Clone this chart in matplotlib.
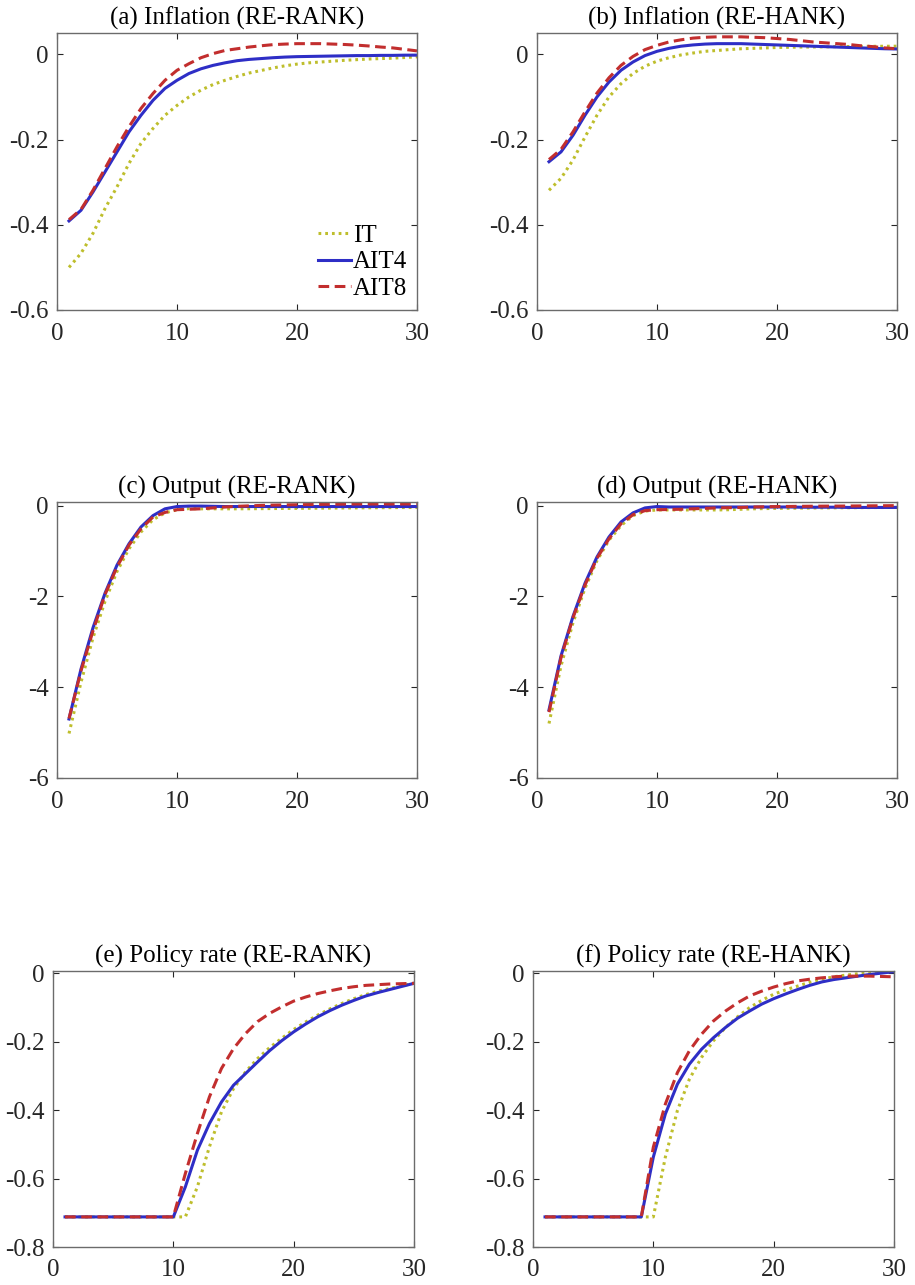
import matplotlib
matplotlib.use("Agg")
import matplotlib.pyplot as plt
import numpy as np

plt.rcParams['font.family'] = ['Liberation Serif', 'DejaVu Serif']

t = np.arange(1, 31)

# (a) Inflation RE-RANK
pi_rank_it = [-0.500, -0.467, -0.420, -0.362, -0.311, -0.256, -0.209, -0.174, -0.143, -0.120,
              -0.100, -0.084, -0.071, -0.061, -0.052, -0.044, -0.038, -0.032, -0.027, -0.023,
              -0.020, -0.018, -0.016, -0.014, -0.0125, -0.011, -0.010, -0.009, -0.0075, -0.006]
pi_rank_ait4 = [-0.391, -0.366, -0.323, -0.276, -0.229, -0.182, -0.143, -0.108, -0.080, -0.061,
                -0.045, -0.034, -0.026, -0.020, -0.015, -0.012, -0.010, -0.008, -0.0065, -0.0055,
                -0.005, -0.0045, -0.004, -0.0035, -0.003, -0.003, -0.0025, -0.0025, -0.002, -0.002]
pi_rank_ait8 = [-0.388, -0.364, -0.319, -0.268, -0.217, -0.170, -0.127, -0.092, -0.061, -0.0375,
                -0.022, -0.008, 0.0016, 0.009, 0.013, 0.017, 0.020, 0.0227, 0.024, 0.025,
                0.025, 0.025, 0.024, 0.023, 0.0215, 0.0195, 0.017, 0.015, 0.0115, 0.008]

# (b) Inflation RE-HANK
pi_hank_it = [-0.319, -0.291, -0.248, -0.194, -0.143, -0.100, -0.069, -0.045, -0.028, -0.016,
              -0.008, -0.0015, 0.003, 0.007, 0.009, 0.011, 0.013, 0.014, 0.015, 0.016,
              0.0165, 0.017, 0.0172, 0.0175, 0.018, 0.0183, 0.0185, 0.0187, 0.0189, 0.019]
pi_hank_ait4 = [-0.252, -0.229, -0.190, -0.143, -0.100, -0.065, -0.0375, -0.018, -0.003, 0.007,
                0.014, 0.019, 0.022, 0.024, 0.025, 0.025, 0.025, 0.024, 0.023, 0.022,
                0.021, 0.020, 0.019, 0.018, 0.017, 0.016, 0.015, 0.014, 0.013, 0.0125]
pi_hank_ait8 = [-0.247, -0.223, -0.182, -0.135, -0.091, -0.055, -0.026, -0.005, 0.011, 0.021,
                0.029, 0.034, 0.038, 0.040, 0.041, 0.041, 0.041, 0.040, 0.039, 0.037,
                0.035, 0.032, 0.029, 0.027, 0.025, 0.023, 0.020, 0.018, 0.015, 0.013]

# (c) Output RE-RANK
y_rank_it = [-5.02, -3.89, -2.91, -2.11, -1.45, -0.95, -0.58, -0.31, -0.16, -0.09,
             -0.065, -0.07, -0.07, -0.07, -0.07, -0.068, -0.066, -0.064, -0.062, -0.06,
             -0.058, -0.056, -0.054, -0.052, -0.05, -0.048, -0.046, -0.044, -0.042, -0.04]
y_rank_ait4 = [-4.70, -3.60, -2.69, -1.93, -1.31, -0.84, -0.47, -0.22, -0.07, -0.02,
               -0.01, -0.01, -0.015, -0.02, -0.02, -0.02, -0.02, -0.02, -0.02, -0.02,
               -0.02, -0.02, -0.02, -0.02, -0.02, -0.02, -0.02, -0.02, -0.02, -0.02]
y_rank_ait8 = [-4.69, -3.64, -2.76, -1.96, -1.35, -0.87, -0.51, -0.25, -0.15, -0.09,
               -0.08, -0.07, -0.05, -0.03, -0.015, -0.005, 0.005, 0.012, 0.017, 0.02,
               0.024, 0.028, 0.031, 0.034, 0.036, 0.036, 0.036, 0.036, 0.036, 0.036]

# (d) Output RE-HANK
y_hank_it = [-4.80, -3.53, -2.58, -1.82, -1.21, -0.76, -0.44, -0.22, -0.12, -0.095,
             -0.095, -0.095, -0.095, -0.095, -0.095, -0.09, -0.08, -0.07, -0.065, -0.06,
             -0.058, -0.055, -0.052, -0.05, -0.048, -0.046, -0.044, -0.042, -0.041, -0.04]
y_hank_ait4 = [-4.50, -3.31, -2.44, -1.71, -1.13, -0.69, -0.36, -0.16, -0.05, -0.02,
               -0.03, -0.03, -0.03, -0.03, -0.03, -0.03, -0.03, -0.03, -0.03, -0.03,
               -0.03, -0.035, -0.035, -0.035, -0.035, -0.04, -0.04, -0.04, -0.04, -0.04]
y_hank_ait8 = [-4.55, -3.35, -2.47, -1.75, -1.16, -0.73, -0.40, -0.20, -0.11, -0.09,
               -0.085, -0.08, -0.07, -0.06, -0.05, -0.045, -0.04, -0.03, -0.025, -0.02,
               -0.018, -0.015, -0.013, -0.011, -0.01, -0.008, -0.006, -0.004, -0.002, 0.0]

# (e) Policy rate RE-RANK
r_rank_it = [-0.712] * 11 + [-0.624, -0.507, -0.405, -0.337, -0.288, -0.249, -0.217, -0.190, -0.164,
                             -0.142, -0.122, -0.104, -0.088, -0.074, -0.062, -0.052, -0.044, -0.036, -0.029]
r_rank_ait4 = [-0.712] * 10 + [-0.624, -0.517, -0.439, -0.376, -0.327, -0.293, -0.259, -0.226, -0.197, -0.171,
                               -0.148, -0.127, -0.109, -0.093, -0.079, -0.066, -0.056, -0.047, -0.038, -0.029]
r_rank_ait8 = [-0.712] * 10 + [-0.585, -0.468, -0.361, -0.278, -0.220, -0.176, -0.141, -0.117, -0.098, -0.081,
                               -0.069, -0.059, -0.051, -0.044, -0.039, -0.035, -0.033, -0.031, -0.030, -0.029]

# (f) Policy rate RE-HANK
r_hank_it = [-0.712] * 10 + [-0.537, -0.401, -0.309, -0.246, -0.197, -0.158, -0.127, -0.100, -0.079, -0.061,
                             -0.048, -0.037, -0.026, -0.017, -0.010, -0.005, -0.001, 0.002, 0.005, 0.007]
r_hank_ait4 = [-0.712] * 9 + [-0.537, -0.411, -0.324, -0.265, -0.222, -0.188, -0.158, -0.131, -0.110, -0.090,
                              -0.074, -0.060, -0.047, -0.035, -0.025, -0.018, -0.013, -0.008, -0.003, 0.001, 0.005]
r_hank_ait8 = [-0.712] * 9 + [-0.508, -0.382, -0.290, -0.226, -0.178, -0.139, -0.110, -0.086, -0.066, -0.052,
                              -0.040, -0.030, -0.022, -0.017, -0.013, -0.010, -0.008, -0.008, -0.008, -0.009, -0.010]

titles = ["(a) Inflation (RE-RANK)", "(b) Inflation (RE-HANK)",
          "(c) Output (RE-RANK)", "(d) Output (RE-HANK)",
          "(e) Policy rate (RE-RANK)", "(f) Policy rate (RE-HANK)"]
series = [(pi_rank_it, pi_rank_ait4, pi_rank_ait8), (pi_hank_it, pi_hank_ait4, pi_hank_ait8),
          (y_rank_it, y_rank_ait4, y_rank_ait8), (y_hank_it, y_hank_ait4, y_hank_ait8),
          (r_rank_it, r_rank_ait4, r_rank_ait8), (r_hank_it, r_hank_ait4, r_hank_ait8)]
ylims = [(-0.6, 0.05), (-0.6, 0.05), (-6, 0.08), (-6, 0.08), (-0.8, 0.007), (-0.8, 0.007)]
yticks = [[-0.6, -0.4, -0.2, 0], [-0.6, -0.4, -0.2, 0], [-6, -4, -2, 0], [-6, -4, -2, 0],
          [-0.8, -0.6, -0.4, -0.2, 0], [-0.8, -0.6, -0.4, -0.2, 0]]
ylabels = [["-0.6", "-0.4", "-0.2", "0"], ["-0.6", "-0.4", "-0.2", "0"],
           ["-6", "-4", "-2", "0"], ["-6", "-4", "-2", "0"],
           ["-0.8", "-0.6", "-0.4", "-0.2", "0"], ["-0.8", "-0.6", "-0.4", "-0.2", "0"]]

# axes boxes in pixels: left, top, right, bottom
boxes = [(57, 33, 417, 310), (537, 33, 897, 310),
         (57, 502, 417, 778), (537, 502, 897, 778),
         (53, 971, 414, 1247), (533, 971, 894, 1247)]

W, H = 915, 1285
fig = plt.figure(figsize=(W / 100, H / 100), dpi=100)

col_it = '#BEBE2C'
col_a4 = '#2E2EC6'
col_a8 = '#C22E2E'

for k in range(6):
    l, tp, r, b = boxes[k]
    ax = fig.add_axes([l / W, 1 - b / H, (r - l) / W, (b - tp) / H])
    s_it, s_a4, s_a8 = series[k]
    ax.plot(t, s_it, color=col_it, lw=2.2, linestyle=(0, (0.9, 1.3)), label="IT")
    ax.plot(t, s_a4, color=col_a4, lw=2.2, linestyle='-', label="AIT4")
    ax.plot(t, s_a8, color=col_a8, lw=2.2, linestyle=(0, (3.5, 1.8)), label="AIT8")
    ax.set_xlim(0, 30)
    ax.set_ylim(*ylims[k])
    ax.set_xticks([0, 10, 20, 30])
    ax.set_yticks(yticks[k])
    ax.set_yticklabels(ylabels[k])
    ax.tick_params(direction='in', top=True, right=True, length=4, width=0.8,
                   labelsize=18, colors='#262626')
    ax.tick_params(axis='x', pad=9)
    ax.tick_params(axis='y', pad=6)
    for sp in ax.spines.values():
        sp.set_color('#6b6b6b')
        sp.set_linewidth(1.0)
    ax.set_title(titles[k], fontsize=18, pad=6)
    if k == 0:
        ax.legend(loc='lower right', frameon=False, fontsize=18, handlelength=1.3,
                  handletextpad=0.08, labelspacing=0.16, borderaxespad=0.0,
                  bbox_to_anchor=(1.0, 0.0))

fig.savefig("out.png", dpi=100)
